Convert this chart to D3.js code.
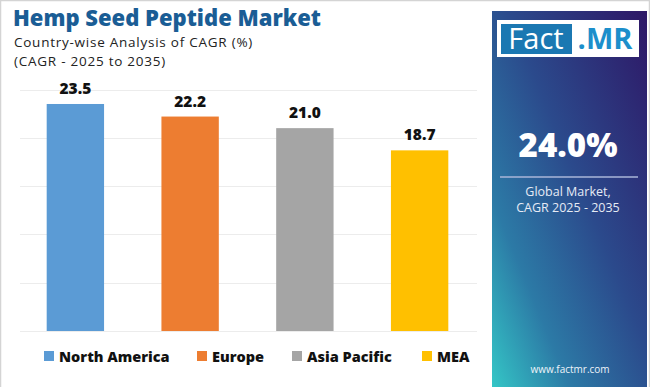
<!DOCTYPE html>
<html><head><meta charset="utf-8">
<script src="https://cdn.jsdelivr.net/npm/d3@7"></script>
<style>html,body{margin:0;padding:0;background:#fff;}svg{display:block;}</style>
</head><body>
<svg id="c" width="650" height="387"></svg>
<script>
const categories = ["North America", "Europe", "Asia Pacific", "MEA"];
const values = [23.5, 22.2, 21.0, 18.7];
const colors = ["#5b9bd5", "#ed7d31", "#a5a5a5", "#ffc000"];
const yTicks = [0, 5, 10, 15, 20, 25];
const titleText = "Hemp Seed Peptide Market";
const subtitle1 = "Country-wise Analysis of CAGR (%)";
const subtitle2 = "(CAGR - 2025 to 2035)";
const globalValue = "24.0%";
const globalLabel = ["Global Market,", "CAGR 2025 - 2035"];
const website = "www.factmr.com";

const font = "'Open Sans', 'Noto Sans', sans-serif";
const svg = d3.select("#c");

// frame
svg.append("rect").attr("x",0.5).attr("y",0.5).attr("width",649).attr("height",390)
  .attr("fill","#fff").attr("stroke","#d4d4d4").attr("stroke-width",1.5);

const defs = svg.append("defs");
const g1 = defs.append("linearGradient").attr("id","pg").attr("x1","1").attr("y1","0").attr("x2","0").attr("y2","1");
g1.append("stop").attr("offset","0").attr("stop-color","#2e1766");
g1.append("stop").attr("offset","0.45").attr("stop-color","#2b4a8c");
g1.append("stop").attr("offset","0.75").attr("stop-color","#2c7aa6");
g1.append("stop").attr("offset","1").attr("stop-color","#34c6c6");
const g2 = defs.append("linearGradient").attr("id","lg").attr("x1","0").attr("y1","0").attr("x2","1").attr("y2","0");
g2.append("stop").attr("offset","0").attr("stop-color","#2f6fa3");
g2.append("stop").attr("offset","1").attr("stop-color","#3aa6c8");

// Title
svg.append("text").attr("x",13).attr("y",26).text(titleText)
  .attr("font-family",font).attr("font-weight",800).attr("font-size",22).attr("fill","#1a5d95");
svg.append("text").attr("x",14).attr("y",47).text(subtitle1)
  .attr("font-family",font).attr("font-size",13.5).attr("letter-spacing",0.75).attr("fill","#222");
svg.append("text").attr("x",14).attr("y",65.5).text(subtitle2)
  .attr("font-family",font).attr("font-size",13.5).attr("letter-spacing",0.75).attr("fill","#222");
svg.append("line").attr("x1",5).attr("x2",488).attr("y1",73.5).attr("y2",73.5)
  .attr("stroke","url(#lg)").attr("stroke-width",2);

// chart
const x = d3.scaleBand().domain(categories).range([18, 477]).paddingInner(0.5).paddingOuter(0.25);
const y = d3.scaleLinear().domain([0, 25]).range([331, 89.5]);

svg.append("g").selectAll("line").data(yTicks).join("line")
  .attr("x1",20).attr("x2",477).attr("y1",d=>Math.round(y(d))+0.5).attr("y2",d=>Math.round(y(d))+0.5)
  .attr("stroke","#ececec").attr("stroke-width",1);

svg.append("g").selectAll("rect").data(values).join("rect")
  .attr("x",(d,i)=>x(categories[i])).attr("width",x.bandwidth())
  .attr("y",d=>y(d)).attr("height",d=>y(0)-y(d))
  .attr("fill",(d,i)=>colors[i]);

svg.append("g").selectAll("text").data(values).join("text")
  .attr("x",(d,i)=>x(categories[i])+x.bandwidth()/2).attr("y",d=>y(d)-10)
  .attr("text-anchor","middle").text(d=>d.toFixed(1))
  .attr("font-family",font).attr("font-weight",800).attr("font-size",15.5).attr("fill","#111");

// legend
const legX = [44, 197, 292, 422];
const leg = svg.append("g").selectAll("g").data(categories).join("g")
  .attr("transform",(d,i)=>`translate(${legX[i]},351)`);
leg.append("rect").attr("width",10).attr("height",10).attr("fill",(d,i)=>colors[i]);
leg.append("text").attr("x",15).attr("y",10.5).text(d=>d)
  .attr("font-family",font).attr("font-weight",800).attr("font-size",14.5).attr("fill","#111");

svg.append("line").attr("x1",7).attr("x2",492).attr("y1",385).attr("y2",385)
  .attr("stroke","url(#lg)").attr("stroke-width",2.5);

// side panel
svg.append("rect").attr("x",492).attr("y",11).attr("width",155).attr("height",376).attr("fill","url(#pg)");
svg.append("rect").attr("x",497).attr("y",20).attr("width",142).attr("height",37).attr("fill","#fff");
svg.append("rect").attr("x",501).attr("y",24).attr("width",71).attr("height",30).attr("fill","#1b78b2");
svg.append("text").attr("x",536).attr("y",49).attr("text-anchor","middle").text("Fact")
  .attr("font-family",font).attr("font-size",29).attr("fill","#fff");
svg.append("text").attr("x",605).attr("y",49).attr("text-anchor","middle").text(".MR")
  .attr("font-family",font).attr("font-weight",700).attr("font-size",29).attr("fill","#1c8fcb");

svg.append("text").attr("x",568).attr("y",157).attr("text-anchor","middle").text(globalValue)
  .attr("font-family",font).attr("font-weight",800).attr("font-size",33).attr("fill","#fff");
svg.append("line").attr("x1",500).attr("x2",638).attr("y1",177).attr("y2",177)
  .attr("stroke","#aab6d8").attr("stroke-width",1.5);
svg.append("g").selectAll("text").data(globalLabel).join("text")
  .attr("x",568).attr("y",(d,i)=>196+i*16).attr("text-anchor","middle").text(d=>d)
  .attr("font-family",font).attr("font-size",12.5).attr("fill","#e6ebf5");
svg.append("text").attr("x",570).attr("y",373).attr("text-anchor","middle").text(website)
  .attr("font-family",font).attr("font-size",10).attr("fill","#eef4fa");
</script>
</body></html>
